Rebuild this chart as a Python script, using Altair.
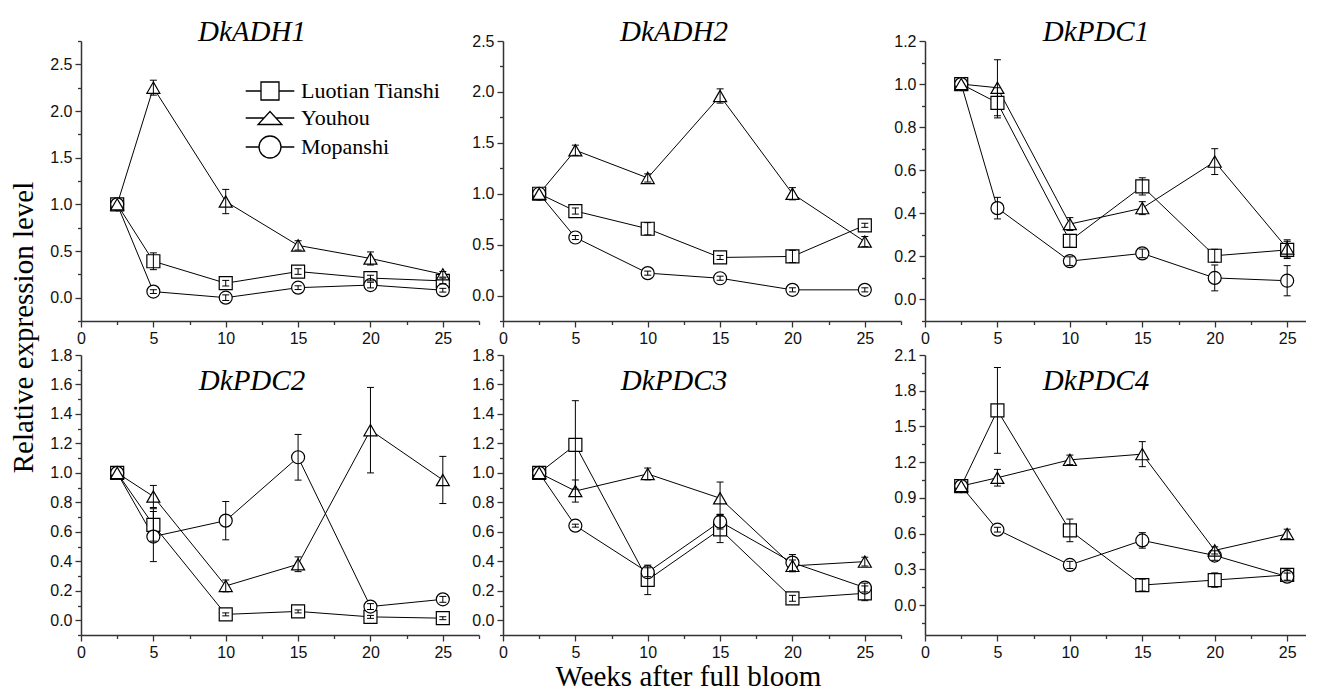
import math
import altair as alt
import pandas as pd

WEEKS = [2.5, 5, 10, 15, 20, 25]
CULTIVARS = ["Luotian Tianshi", "Youhou", "Mopanshi"]
GENES = ["DkADH1", "DkADH2", "DkPDC1", "DkPDC2", "DkPDC3", "DkPDC4"]

# values: mean and error per cultivar
ADH1_LT = [1.0, 0.39, 0.155, 0.28, 0.21, 0.18]
ADH1_LT_ERR = [0, 0.09, 0.03, 0.03, 0.03, 0.03]
ADH1_YH = [1.0, 2.25, 1.03, 0.56, 0.42, 0.25]
ADH1_YH_ERR = [0, 0.08, 0.13, 0.05, 0.07, 0.03]
ADH1_MP = [1.0, 0.065, 0.0, 0.107, 0.135, 0.08]
ADH1_MP_ERR = [0, 0.02, 0.03, 0.02, 0.03, 0.02]

ADH2_LT = [1.0, 0.83, 0.656, 0.374, 0.384, 0.69]
ADH2_LT_ERR = [0, 0.03, 0.06, 0.02, 0.06, 0.02]
ADH2_YH = [1.0, 1.427, 1.155, 1.96, 1.0, 0.53]
ADH2_YH_ERR = [0, 0.05, 0.04, 0.07, 0.06, 0.05]
ADH2_MP = [1.0, 0.57, 0.22, 0.17, 0.056, 0.056]
ADH2_MP_ERR = [0, 0.02, 0.02, 0.02, 0.02, 0.02]

PDC1_LT = [1.0, 0.913, 0.272, 0.525, 0.203, 0.23]
PDC1_LT_ERR = [0, 0.07, 0.03, 0.04, 0.03, 0.04]
PDC1_YH = [1.0, 0.983, 0.35, 0.424, 0.64, 0.237]
PDC1_YH_ERR = [0, 0.13, 0.03, 0.03, 0.06, 0.04]
PDC1_MP = [1.0, 0.424, 0.178, 0.214, 0.10, 0.087]
PDC1_MP_ERR = [0, 0.05, 0.02, 0.02, 0.06, 0.07]

PDC2_LT = [1.0, 0.647, 0.04, 0.06, 0.023, 0.014]
PDC2_LT_ERR = [0, 0.11, 0.01, 0.01, 0.01, 0.01]
PDC2_YH = [1.0, 0.84, 0.233, 0.38, 1.29, 0.952]
PDC2_YH_ERR = [0, 0.075, 0.04, 0.05, 0.29, 0.16]
PDC2_MP = [1.0, 0.568, 0.676, 1.106, 0.093, 0.142]
PDC2_MP_ERR = [0, 0.17, 0.13, 0.155, 0.02, 0.02]

PDC3_LT = [1.0, 1.19, 0.274, 0.617, 0.149, 0.183]
PDC3_LT_ERR = [0, 0.3, 0.1, 0.09, 0.02, 0.05]
PDC3_YH = [1.0, 0.877, 0.993, 0.828, 0.369, 0.398]
PDC3_YH_ERR = [0, 0.075, 0.04, 0.11, 0.04, 0.03]
PDC3_MP = [1.0, 0.642, 0.326, 0.669, 0.391, 0.222]
PDC3_MP_ERR = [0, 0.01, 0.03, 0.05, 0.055, 0.03]

PDC4_LT = [1.0, 1.635, 0.628, 0.169, 0.211, 0.254]
PDC4_LT_ERR = [0, 0.36, 0.095, 0.05, 0.06, 0.05]
PDC4_YH = [1.0, 1.07, 1.22, 1.268, 0.46, 0.598]
PDC4_YH_ERR = [0, 0.07, 0.04, 0.105, 0.03, 0.04]
PDC4_MP = [1.0, 0.634, 0.338, 0.544, 0.417, 0.24]
PDC4_MP_ERR = [0, 0.02, 0.03, 0.065, 0.04, 0.03]

SERIES = {
    "DkADH1": [(ADH1_LT, ADH1_LT_ERR), (ADH1_YH, ADH1_YH_ERR), (ADH1_MP, ADH1_MP_ERR)],
    "DkADH2": [(ADH2_LT, ADH2_LT_ERR), (ADH2_YH, ADH2_YH_ERR), (ADH2_MP, ADH2_MP_ERR)],
    "DkPDC1": [(PDC1_LT, PDC1_LT_ERR), (PDC1_YH, PDC1_YH_ERR), (PDC1_MP, PDC1_MP_ERR)],
    "DkPDC2": [(PDC2_LT, PDC2_LT_ERR), (PDC2_YH, PDC2_YH_ERR), (PDC2_MP, PDC2_MP_ERR)],
    "DkPDC3": [(PDC3_LT, PDC3_LT_ERR), (PDC3_YH, PDC3_YH_ERR), (PDC3_MP, PDC3_MP_ERR)],
    "DkPDC4": [(PDC4_LT, PDC4_LT_ERR), (PDC4_YH, PDC4_YH_ERR), (PDC4_MP, PDC4_MP_ERR)],
}

# axis ranges and tick steps (major, minor)
Y_DOMAIN = {"DkADH1": [-0.25, 2.75], "DkADH2": [-0.25, 2.5], "DkPDC1": [-0.1, 1.2],
            "DkPDC2": [-0.1, 1.8], "DkPDC3": [-0.1, 1.8], "DkPDC4": [-0.25, 2.1]}
Y_STEP = {"DkADH1": (0.5, 0.25), "DkADH2": (0.5, 0.25), "DkPDC1": (0.2, 0.1),
          "DkPDC2": (0.2, 0.1), "DkPDC3": (0.2, 0.1), "DkPDC4": (0.3, 0.15)}
X_MAX = [27.5, 27.5, 26.3]
X_STEP = (5, 2.5)

X_TITLE = "Weeks after full bloom"
Y_TITLE = "Relative expression level"

SERIF = "Liberation Serif"
SANS = "Liberation Sans"
PX_PER_WEEK = 14.47
H = 280
SHAPES = ["square", "triangle-up", "circle"]
LEGEND_PATHS = [
    "M-2.7,0H-1M1,0H2.7M-1,-1H1V1H-1Z",
    "M-2.7,0H-0.67M0.67,0H2.7M0,-0.72L1.33,0.72H-1.33Z",
    "M-2.7,0H-1.22M1.22,0H2.7M1.22,0A1.22,1.22,0,1,1,-1.22,0A1.22,1.22,0,1,1,1.22,0Z",
]


def tick_values(lo, hi, step):
    k = math.ceil(lo / step - 1e-9)
    vals = []
    while k * step <= hi + 1e-9:
        vals.append(round(k * step, 6))
        k += 1
    return vals


def is_major(step):
    return f"abs(datum.value / {step} - round(datum.value / {step})) < 1e-6"


def build_df(gene):
    rows = []
    order = [0, 2, 1]  # draw triangles last
    for i in order:
        vals, errs = SERIES[gene][i]
        for w, v, e in zip(WEEKS, vals, errs):
            rows.append({"week": w, "value": v, "err": e, "cultivar": CULTIVARS[i]})
    return pd.DataFrame(rows)


def panel(gene, col, row):
    xmax = X_MAX[col]
    W = round(xmax * PX_PER_WEEK)
    df = build_df(gene)
    base = alt.Chart(df)
    ymaj, ymin = Y_STEP[gene]
    ydom = Y_DOMAIN[gene]

    xaxis_kw = dict(
        values=tick_values(0, xmax, X_STEP[1]),
        labelExpr=f"{is_major(X_STEP[0])} ? format(datum.value, 'd') : ''",
        tickSize={"condition": {"test": is_major(X_STEP[0]), "value": 6}, "value": 3.5},
        labelFlush=False, labelOverlap=False, title=None,
    )
    yaxis_kw = dict(
        values=tick_values(ydom[0], ydom[1], ymin),
        labelExpr=f"{is_major(ymaj)} ? format(datum.value, '.1f') : ''",
        tickSize={"condition": {"test": is_major(ymaj), "value": 6}, "value": 3.5},
        labelFlush=False, labelOverlap=False, title=None,
    )
    if row == 1 and col == 1:
        xaxis_kw.update(title=X_TITLE, titleX=185, titleY=50, titleAlign="center",
                        titleBaseline="alphabetic")
    if row == 1 and col == 0:
        yaxis_kw.update(title=Y_TITLE, titleX=-49, titleY=-28, titleAlign="center",
                        titleBaseline="alphabetic", titleAngle=270)
    xaxis = alt.Axis(**xaxis_kw)
    yaxis = alt.Axis(**yaxis_kw)
    xs = alt.Scale(domain=[0, xmax], nice=False, zero=False)
    ys = alt.Scale(domain=ydom, nice=False, zero=False)

    def X():
        return alt.X("week:Q", scale=xs, axis=xaxis)

    def Y(f):
        return alt.Y(f"{f}:Q", scale=ys, axis=yaxis)

    lines = base.mark_line(color="black", strokeWidth=1).encode(
        x=X(), y=Y("value"), detail="cultivar:N", order="week:Q")
    points = base.mark_point(filled=True, fill="white", stroke="black", strokeWidth=1.2,
                             size=169, opacity=1).encode(
        x=X(), y=Y("value"),
        shape=alt.Shape("cultivar:N", scale=alt.Scale(domain=CULTIVARS, range=SHAPES), legend=None))
    err = base.transform_filter("datum.err > 0").transform_calculate(
        lo="datum.value - datum.err", hi="datum.value + datum.err")
    rules = err.mark_rule(color="black", strokeWidth=1).encode(x=X(), y=Y("lo"), y2="hi:Q")
    tlo = err.mark_tick(orient="horizontal", size=7, thickness=1, color="black", opacity=1).encode(
        x=X(), y=Y("lo"))
    thi = err.mark_tick(orient="horizontal", size=7, thickness=1, color="black", opacity=1).encode(
        x=X(), y=Y("hi"))
    title = alt.Chart(pd.DataFrame({"gene": [gene]})).mark_text(
        font=SERIF, fontSize=29, fontStyle="italic", fontWeight="normal", color="black",
        align="center", baseline="alphabetic").encode(
        text="gene:N", x=alt.value(171), y=alt.value(0 if row == 0 else 35))
    layers = [lines, points, rules, tlo, thi, title]
    if row == 0 and col == 0:
        leg = base.transform_filter("false").mark_point(
            filled=False, stroke="black", strokeWidth=1.3, size=324, opacity=1).encode(
            x=X(), y=Y("value"),
            shape=alt.Shape("cultivar:N", scale=alt.Scale(domain=CULTIVARS, range=LEGEND_PATHS),
                            legend=alt.Legend(title=None, orient="none", legendX=178, legendY=39,
                                              labelFont=SERIF, labelFontSize=22, labelColor="black",
                                              symbolSize=324, symbolStrokeColor="black",
                                              symbolStrokeWidth=1.3, labelOffset=20,
                                              rowPadding=4, padding=0)))
        layers.append(leg)
    return alt.layer(*layers).resolve_scale(shape="independent").properties(width=W, height=H)


panels = [panel(GENES[r * 3 + c], c, r) for r in range(2) for c in range(3)]

chart = alt.concat(*panels, columns=3, spacing={"row": 34, "column": 24}, bounds="flush").resolve_scale(
    shape="independent").resolve_legend(shape="independent").properties(
    padding={"left": 0, "top": 10, "right": 0, "bottom": 0}
).configure_view(stroke=None).configure_axis(
    grid=False, labelFont=SANS, labelFontSize=16, labelColor="#111", labelPadding=3,
    domainColor="#333", domainWidth=1.5, tickColor="#333", tickWidth=1.3,
    titleFont=SERIF, titleFontSize=29, titleFontWeight="normal", titleColor="black",
)

chart.save("out.html", embed_options={"renderer": "svg", "actions": False})
